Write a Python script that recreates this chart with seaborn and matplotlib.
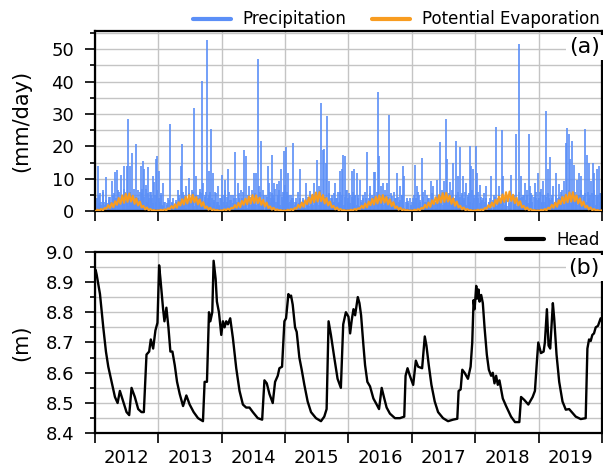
import numpy as np
import matplotlib
matplotlib.use("Agg")
import matplotlib.pyplot as plt
import seaborn as sns
from matplotlib.lines import Line2D
from matplotlib.ticker import MultipleLocator, FixedLocator, FixedFormatter, NullFormatter

# ---------------- data ----------------
years = [2012, 2013, 2014, 2015, 2016, 2017, 2018, 2019]
year_labels = ["2012", "2013", "2014", "2015", "2016", "2017", "2018", "2019"]

# notable daily precipitation events (decimal year, mm/day)
precip_t = [
    2012.008, 2012.042, 2012.060, 2012.079, 2012.100, 2012.121, 2012.145, 2012.174, 2012.195, 2012.216,
    2012.240, 2012.268, 2012.290, 2012.316, 2012.347, 2012.365, 2012.384, 2012.416, 2012.437, 2012.463,
    2012.480, 2012.500, 2012.526, 2012.540, 2012.558, 2012.579, 2012.595, 2012.611, 2012.630, 2012.647,
    2012.665, 2012.684, 2012.705, 2012.726, 2012.740, 2012.753, 2012.779, 2012.805, 2012.832, 2012.850,
    2012.868, 2012.890, 2012.911, 2012.937, 2012.963, 2012.984,
    2013.005, 2013.025, 2013.042, 2013.060, 2013.079, 2013.111, 2013.132, 2013.153, 2013.179, 2013.200,
    2013.216, 2013.253, 2013.279, 2013.311, 2013.332, 2013.358, 2013.379, 2013.395, 2013.411, 2013.437,
    2013.458, 2013.479, 2013.511, 2013.542, 2013.568, 2013.595, 2013.610, 2013.626, 2013.658, 2013.689,
    2013.711, 2013.742, 2013.774, 2013.790, 2013.805, 2013.820, 2013.837, 2013.868, 2013.885, 2013.900,
    2013.920, 2013.937, 2013.955, 2013.974,
    2014.005, 2014.032, 2014.058, 2014.080, 2014.100, 2014.121, 2014.147, 2014.179, 2014.211, 2014.230,
    2014.253, 2014.279, 2014.311, 2014.330, 2014.353, 2014.384, 2014.411, 2014.437, 2014.474, 2014.495,
    2014.511, 2014.542, 2014.568, 2014.595, 2014.621, 2014.640, 2014.658, 2014.695, 2014.715, 2014.732,
    2014.753, 2014.775, 2014.795, 2014.815, 2014.832, 2014.868, 2014.890, 2014.911, 2014.942, 2014.963,
    2014.984,
    2015.000, 2015.016, 2015.035, 2015.053, 2015.070, 2015.089, 2015.110, 2015.132, 2015.150, 2015.174,
    2015.205, 2015.237, 2015.258, 2015.279, 2015.305, 2015.332, 2015.368, 2015.400, 2015.432, 2015.463,
    2015.485, 2015.511, 2015.542, 2015.574, 2015.595, 2015.621, 2015.647, 2015.668, 2015.700, 2015.720,
    2015.742, 2015.765, 2015.789, 2015.810, 2015.832, 2015.850, 2015.868, 2015.895, 2015.921, 2015.948,
    2015.974,
    2016.000, 2016.025, 2016.052, 2016.070, 2016.089, 2016.110, 2016.131, 2016.157, 2016.184, 2016.205,
    2016.225, 2016.262, 2016.280, 2016.299, 2016.320, 2016.341, 2016.372, 2016.404, 2016.425, 2016.445,
    2016.461, 2016.482, 2016.509, 2016.530, 2016.551, 2016.582, 2016.614, 2016.630, 2016.645, 2016.682,
    2016.700, 2016.724, 2016.750, 2016.771, 2016.790, 2016.813, 2016.844, 2016.865, 2016.881, 2016.918,
    2016.944, 2016.981,
    2017.012, 2017.030, 2017.049, 2017.070, 2017.086, 2017.117, 2017.135, 2017.154, 2017.180, 2017.206,
    2017.225, 2017.248, 2017.270, 2017.295, 2017.315, 2017.337, 2017.360, 2017.390, 2017.416, 2017.442,
    2017.468, 2017.505, 2017.520, 2017.536, 2017.557, 2017.580, 2017.599, 2017.626, 2017.652, 2017.675,
    2017.694, 2017.731, 2017.750, 2017.767, 2017.790, 2017.809, 2017.830, 2017.851, 2017.883, 2017.914,
    2017.940, 2017.966, 2017.988,
    2018.008, 2018.029, 2018.050, 2018.071, 2018.095, 2018.124, 2018.150, 2018.176, 2018.218, 2018.235,
    2018.255, 2018.291, 2018.310, 2018.334, 2018.355, 2018.375, 2018.395, 2018.417, 2018.438, 2018.465,
    2018.491, 2018.533, 2018.569, 2018.606, 2018.630, 2018.648, 2018.685, 2018.705, 2018.727, 2018.753,
    2018.779, 2018.816, 2018.842, 2018.868, 2018.900, 2018.937, 2018.960, 2018.989,
    2019.010, 2019.031, 2019.050, 2019.068, 2019.094, 2019.120, 2019.146, 2019.165, 2019.183, 2019.209,
    2019.235, 2019.255, 2019.277, 2019.300, 2019.319, 2019.346, 2019.372, 2019.408, 2019.435, 2019.456,
    2019.477, 2019.498, 2019.529, 2019.550, 2019.566, 2019.585, 2019.603, 2019.634, 2019.655, 2019.676,
    2019.707, 2019.739, 2019.760, 2019.791, 2019.810, 2019.828, 2019.854, 2019.880, 2019.900, 2019.917,
    2019.949, 2019.975, 2019.995,
]
precip_v = [
    3.0, 13.9, 2.5, 5.5, 2.0, 6.7, 3.0, 10.6, 2.5, 3.5,
    4.5, 9.3, 5.0, 12.0, 12.7, 4.0, 6.0, 11.3, 5.0, 14.1,
    6.0, 13.9, 28.5, 5.0, 13.9, 18.0, 4.0, 7.0, 3.0, 20.8,
    3.0, 4.0, 6.0, 13.9, 7.0, 15.4, 12.9, 8.0, 13.7, 4.0,
    6.0, 5.0, 11.0, 9.0, 16.0, 17.0,
    12.3, 3.0, 5.0, 2.0, 8.7, 3.0, 2.6, 4.0, 27.0, 2.0,
    3.0, 2.0, 3.5, 6.7, 4.0, 13.9, 20.9, 3.0, 5.0, 7.7,
    3.0, 10.3, 4.0, 6.0, 31.9, 10.8, 3.0, 5.0, 7.0, 40.3,
    8.7, 5.0, 53.0, 4.0, 12.3, 6.0, 25.4, 11.8, 3.0, 6.0,
    3.0, 7.7, 2.0, 4.0,
    11.3, 5.0, 9.8, 3.0, 12.9, 6.0, 3.6, 5.0, 18.2, 4.0,
    8.7, 4.0, 6.7, 3.0, 18.8, 17.0, 5.0, 7.7, 4.0, 3.0,
    11.8, 11.8, 47.0, 7.7, 21.6, 3.0, 6.7, 5.0, 3.0, 13.9,
    8.7, 4.0, 17.5, 5.0, 8.7, 8.5, 4.0, 9.2, 12.9, 6.0,
    18.5,
    8.0, 19.9, 5.0, 11.8, 3.0, 5.0, 4.0, 21.1, 3.0, 4.1,
    6.0, 13.0, 3.0, 4.0, 2.0, 8.7, 3.0, 6.2, 4.0, 8.7,
    3.0, 15.7, 7.7, 33.4, 19.0, 19.2, 15.0, 29.3, 9.2, 4.0,
    5.0, 3.0, 8.7, 4.0, 6.0, 3.0, 12.3, 12.9, 17.5, 17.0,
    6.7,
    4.0, 5.0, 12.3, 4.0, 13.0, 5.0, 11.8, 5.0, 9.8, 3.0,
    4.0, 6.0, 3.0, 18.2, 4.0, 7.7, 5.0, 12.0, 12.0, 4.0,
    36.8, 17.0, 7.7, 4.0, 8.7, 5.0, 8.7, 3.0, 29.8, 4.6,
    3.0, 6.0, 4.0, 11.8, 3.0, 7.7, 5.0, 14.1, 10.8, 4.0,
    3.1, 2.0,
    4.0, 3.0, 14.4, 4.0, 7.7, 5.0, 3.0, 16.5, 6.0, 6.7,
    3.0, 4.0, 3.0, 9.2, 4.0, 7.7, 3.0, 9.8, 5.0, 21.3,
    6.7, 9.2, 4.0, 28.6, 16.0, 4.0, 9.0, 5.0, 14.9, 4.0,
    21.6, 10.8, 4.0, 19.9, 5.0, 10.8, 4.0, 8.7, 5.0, 20.0,
    13.9, 12.9, 5.0,
    20.3, 11.8, 4.0, 8.2, 3.0, 4.0, 3.0, 7.7, 3.0, 4.0,
    10.8, 5.0, 3.0, 25.9, 4.0, 7.7, 3.0, 25.0, 10.8, 3.0,
    5.7, 4.0, 11.3, 5.0, 3.0, 24.0, 51.7, 4.0, 11.0, 5.0,
    8.7, 5.0, 24.0, 7.7, 5.0, 8.7, 4.0, 11.8,
    4.0, 6.9, 3.0, 9.2, 5.0, 30.9, 12.9, 4.0, 16.7, 5.0,
    7.7, 3.0, 11.8, 4.0, 8.5, 4.0, 6.5, 9.2, 21.0, 25.6,
    24.0, 16.0, 21.6, 5.0, 14.4, 4.0, 9.8, 11.8, 4.0, 10.8,
    5.0, 25.4, 17.5, 14.9, 5.0, 9.2, 14.9, 11.8, 5.0, 13.0,
    13.9, 5.7, 12.0,
]

# smaller rain days (48 per year, mm/day)
precip_low_v = [
    2.5, 4.0, 1.5, 5.0, 3.0, 1.0, 6.0, 2.0, 3.5, 1.5, 4.5, 2.5,
    3.0, 1.0, 5.5, 2.0, 4.0, 6.5, 1.5, 3.0, 5.0, 2.5, 7.0, 3.5,
    4.0, 1.5, 6.0, 2.5, 5.0, 3.0, 1.0, 4.5, 6.5, 2.0, 3.5, 5.5,
    2.0, 4.5, 7.0, 3.0, 5.5, 1.5, 6.0, 4.0, 2.5, 5.0, 3.0, 6.5,
    4.0, 2.0, 5.5, 1.5, 3.0, 1.0, 2.0, 0.8, 3.5, 1.5, 2.5, 4.0,
    1.0, 3.0, 2.0, 5.0, 1.5, 3.5, 6.0, 2.0, 4.5, 1.0, 3.0, 5.5,
    2.5, 6.5, 3.0, 1.5, 5.0, 2.0, 4.0, 6.0, 3.5, 5.5, 2.0, 4.5,
    6.0, 3.0, 5.0, 2.5, 4.0, 1.5, 3.5, 5.5, 2.0, 3.0, 1.5, 4.0,
    5.0, 3.0, 6.5, 2.0, 4.5, 1.5, 3.5, 5.0, 2.5, 4.0, 1.0, 3.0,
    2.0, 5.5, 1.5, 4.0, 6.0, 2.5, 3.5, 1.0, 5.0, 2.0, 4.5, 6.5,
    3.0, 5.5, 2.0, 4.0, 1.5, 6.0, 3.5, 2.5, 5.0, 1.5, 4.5, 3.0,
    6.0, 2.5, 5.5, 4.0, 7.0, 3.0, 5.0, 6.5, 2.0, 4.5, 3.5, 6.0,
    4.5, 6.0, 2.5, 5.0, 3.5, 1.5, 4.0, 2.0, 3.0, 1.0, 2.5, 4.0,
    1.5, 3.5, 2.0, 1.0, 3.0, 4.5, 1.5, 2.5, 5.0, 2.0, 3.5, 6.0,
    4.0, 2.0, 6.5, 3.0, 5.0, 2.5, 4.5, 1.5, 3.5, 5.5, 2.0, 4.0,
    3.0, 5.5, 1.5, 4.0, 2.5, 6.0, 3.5, 5.0, 2.0, 4.5, 6.5, 3.0,
    5.5, 2.5, 4.5, 6.0, 3.0, 5.0, 2.0, 4.0, 1.5, 3.5, 2.5, 5.0,
    2.0, 4.0, 1.5, 3.0, 5.5, 2.5, 4.5, 1.0, 3.5, 6.0, 2.0, 4.0,
    3.0, 5.0, 2.0, 6.5, 3.5, 1.5, 4.5, 2.5, 5.5, 3.0, 1.0, 4.0,
    2.5, 4.5, 1.5, 3.5, 5.0, 2.0, 1.0, 3.0, 1.5, 2.5, 4.0, 2.0,
    3.0, 5.0, 2.0, 4.0, 6.0, 2.5, 3.5, 1.5, 4.5, 2.0, 3.0, 5.0,
    1.5, 4.0, 2.5, 5.5, 2.0, 3.0, 1.0, 4.5, 2.5, 3.5, 5.0, 2.0,
    6.0, 3.0, 4.5, 2.0, 5.5, 3.5, 6.5, 2.5, 4.0, 5.0, 3.0, 6.0,
    4.5, 2.5, 5.5, 3.5, 6.0, 2.0, 4.5, 5.5, 3.0, 6.5, 2.5, 4.0,
    5.0, 3.0, 6.0, 2.5, 4.5, 3.5, 5.5, 2.0, 4.0, 1.5, 3.0, 2.0,
    1.0, 3.5, 2.0, 4.5, 1.5, 3.0, 5.0, 2.5, 1.0, 4.0, 2.0, 3.5,
    1.5, 2.5, 1.0, 3.0, 5.0, 2.0, 4.0, 1.5, 3.5, 6.0, 2.5, 4.5,
    2.0, 5.0, 3.5, 6.5, 2.5, 4.0, 5.5, 3.0, 4.5, 2.0, 6.0, 3.5,
    4.0, 6.0, 2.5, 5.0, 3.0, 4.5, 2.0, 5.5, 3.5, 1.5, 4.0, 2.5,
    3.0, 5.0, 1.5, 4.5, 2.5, 6.0, 3.5, 2.0, 5.0, 3.0, 4.0, 6.5,
    2.5, 5.5, 3.0, 6.0, 4.0, 2.0, 5.0, 3.5, 6.5, 2.5, 4.5, 5.5,
    3.0, 6.0, 4.0, 2.5, 5.5, 3.5, 6.5, 2.0, 4.5, 5.0, 3.0, 5.5,
]

# potential evaporation, ~10-day values (36 per year, mm/day)
evap_v = [
    0.1, 0.5, 0.2, 0.7, 0.3, 1.0, 0.8, 1.9, 1.0, 2.5, 1.3, 3.1, 2.0, 4.1, 2.3, 4.9, 2.6, 5.4,
    2.9, 5.5, 3.0, 4.8, 2.3, 4.0, 1.8, 3.0, 1.2, 1.7, 0.6, 1.2, 0.3, 0.7, 0.2, 0.4, 0.1, 0.3,
    0.2, 0.5, 0.2, 0.6, 0.3, 0.9, 0.7, 1.6, 0.9, 2.2, 1.1, 2.8, 1.8, 3.7, 2.1, 4.5, 2.4, 5.0,
    2.7, 5.1, 2.8, 4.4, 2.1, 3.7, 1.6, 2.8, 1.0, 1.5, 0.5, 1.1, 0.3, 0.6, 0.2, 0.4, 0.1, 0.3,
    0.2, 0.6, 0.3, 0.8, 0.4, 1.1, 0.9, 1.9, 1.1, 2.6, 1.3, 3.2, 2.0, 3.9, 2.2, 4.6, 2.4, 5.0,
    2.6, 4.9, 2.5, 4.2, 2.0, 3.5, 1.5, 2.7, 1.0, 1.5, 0.5, 1.1, 0.3, 0.6, 0.2, 0.4, 0.1, 0.3,
    0.1, 0.5, 0.2, 0.7, 0.3, 1.0, 0.8, 2.0, 1.1, 2.7, 1.4, 3.4, 2.2, 4.3, 2.5, 5.1, 2.8, 5.8,
    3.0, 5.9, 3.1, 5.0, 2.4, 4.1, 1.8, 3.0, 1.2, 1.7, 0.6, 1.2, 0.3, 0.7, 0.2, 0.4, 0.1, 0.3,
    0.2, 0.5, 0.2, 0.7, 0.4, 0.9, 0.8, 1.7, 1.0, 2.4, 1.2, 3.0, 1.9, 3.8, 2.1, 4.5, 2.4, 4.9,
    2.6, 5.0, 2.7, 4.4, 2.1, 3.7, 1.6, 2.8, 1.0, 1.5, 0.5, 1.1, 0.3, 0.6, 0.2, 0.4, 0.1, 0.3,
    0.1, 0.5, 0.2, 0.7, 0.3, 1.1, 0.8, 2.0, 1.1, 2.7, 1.4, 3.4, 2.2, 4.3, 2.5, 5.0, 2.7, 5.6,
    2.9, 5.7, 3.0, 4.8, 2.3, 4.0, 1.7, 3.0, 1.2, 1.7, 0.6, 1.2, 0.3, 0.7, 0.2, 0.4, 0.1, 0.3,
    0.2, 0.5, 0.2, 0.6, 0.3, 1.0, 0.8, 1.9, 1.2, 2.7, 1.5, 3.5, 2.3, 4.5, 2.6, 5.2, 2.9, 5.9,
    3.1, 6.1, 3.2, 5.1, 2.5, 4.2, 1.8, 3.1, 1.2, 1.7, 0.6, 1.2, 0.3, 0.7, 0.2, 0.4, 0.1, 0.3,
    0.1, 0.5, 0.2, 0.7, 0.3, 1.1, 0.8, 2.0, 1.1, 2.7, 1.4, 3.4, 2.2, 4.4, 2.5, 5.1, 2.8, 5.8,
    3.0, 5.9, 3.1, 4.9, 2.4, 4.0, 1.7, 3.0, 1.2, 1.7, 0.6, 1.2, 0.3, 0.7, 0.2, 0.4, 0.1, 0.3,
]

head_t = [
    2012.000, 2012.010, 2012.026, 2012.079, 2012.131, 2012.173, 2012.210, 2012.262, 2012.315, 2012.357,
    2012.393, 2012.446, 2012.498, 2012.540, 2012.577, 2012.629, 2012.682, 2012.734, 2012.771, 2012.813,
    2012.855, 2012.881, 2012.918, 2012.954, 2012.986, 2013.012, 2013.033, 2013.075, 2013.096, 2013.127,
    2013.159, 2013.190, 2013.222, 2013.259, 2013.295, 2013.337, 2013.390, 2013.442, 2013.494, 2013.557,
    2013.626, 2013.704, 2013.730, 2013.767, 2013.799, 2013.820, 2013.851, 2013.872, 2013.904, 2013.924,
    2013.956, 2013.993, 2014.019, 2014.045, 2014.071, 2014.098, 2014.134, 2014.176, 2014.229, 2014.281,
    2014.334, 2014.386, 2014.438, 2014.491, 2014.569, 2014.638, 2014.674, 2014.711, 2014.753, 2014.805,
    2014.842, 2014.884, 2014.910, 2014.952, 2014.989, 2015.015, 2015.052, 2015.078, 2015.094, 2015.120,
    2015.157, 2015.183, 2015.225, 2015.262, 2015.304, 2015.356, 2015.409, 2015.487, 2015.566, 2015.618,
    2015.655, 2015.686, 2015.723, 2015.776, 2015.828, 2015.880, 2015.917, 2015.959, 2016.000, 2016.026,
    2016.052, 2016.079, 2016.105, 2016.147, 2016.173, 2016.199, 2016.236, 2016.262, 2016.298, 2016.340,
    2016.393, 2016.445, 2016.482, 2016.524, 2016.565, 2016.602, 2016.654, 2016.733, 2016.812, 2016.880,
    2016.901, 2016.932, 2016.969, 2017.021, 2017.063, 2017.099, 2017.162, 2017.204, 2017.230, 2017.267,
    2017.309, 2017.361, 2017.414, 2017.492, 2017.571, 2017.649, 2017.717, 2017.738, 2017.770, 2017.796,
    2017.832, 2017.885, 2017.927, 2017.953, 2017.974, 2017.990, 2018.016, 2018.031, 2018.052, 2018.068,
    2018.094, 2018.120, 2018.147, 2018.183, 2018.215, 2018.251, 2018.277, 2018.304, 2018.330, 2018.356,
    2018.382, 2018.435, 2018.487, 2018.565, 2018.628, 2018.696, 2018.723, 2018.775, 2018.838, 2018.906,
    2018.942, 2018.974, 2018.995, 2019.037, 2019.079, 2019.099, 2019.131, 2019.157, 2019.183, 2019.225,
    2019.246, 2019.283, 2019.325, 2019.377, 2019.429, 2019.482, 2019.524, 2019.586, 2019.665, 2019.743,
    2019.770, 2019.796, 2019.822, 2019.848, 2019.874, 2019.901, 2019.937, 2019.979, 2020.000,
]
head_v = [
    8.93, 8.94, 8.925, 8.86, 8.75, 8.67, 8.62, 8.57, 8.52, 8.50,
    8.54, 8.505, 8.47, 8.46, 8.55, 8.52, 8.48, 8.47, 8.47, 8.66,
    8.67, 8.71, 8.68, 8.74, 8.765, 8.955, 8.91, 8.81, 8.77, 8.815,
    8.75, 8.67, 8.67, 8.625, 8.57, 8.53, 8.49, 8.525, 8.495, 8.47,
    8.45, 8.44, 8.57, 8.57, 8.80, 8.77, 8.80, 8.97, 8.91, 8.835,
    8.80, 8.725, 8.77, 8.75, 8.77, 8.76, 8.78, 8.715, 8.615, 8.54,
    8.495, 8.485, 8.485, 8.47, 8.45, 8.445, 8.575, 8.565, 8.53, 8.50,
    8.57, 8.59, 8.615, 8.62, 8.77, 8.78, 8.86, 8.85, 8.855, 8.825,
    8.75, 8.735, 8.65, 8.61, 8.56, 8.505, 8.47, 8.45, 8.44, 8.455,
    8.48, 8.77, 8.725, 8.65, 8.58, 8.55, 8.76, 8.80, 8.785, 8.73,
    8.775, 8.81, 8.79, 8.85, 8.83, 8.79, 8.69, 8.625, 8.57, 8.555,
    8.515, 8.495, 8.48, 8.55, 8.515, 8.485, 8.465, 8.45, 8.45, 8.455,
    8.59, 8.615, 8.59, 8.56, 8.64, 8.62, 8.615, 8.72, 8.69, 8.625,
    8.56, 8.505, 8.47, 8.45, 8.44, 8.445, 8.448, 8.54, 8.545, 8.61,
    8.60, 8.58, 8.62, 8.70, 8.84, 8.81, 8.887, 8.845, 8.875, 8.835,
    8.857, 8.83, 8.75, 8.66, 8.61, 8.59, 8.60, 8.565, 8.59, 8.56,
    8.575, 8.515, 8.49, 8.455, 8.437, 8.437, 8.52, 8.51, 8.495, 8.52,
    8.54, 8.64, 8.70, 8.665, 8.67, 8.70, 8.81, 8.69, 8.68, 8.83,
    8.78, 8.66, 8.57, 8.505, 8.478, 8.48, 8.47, 8.455, 8.447, 8.45,
    8.68, 8.71, 8.705, 8.725, 8.73, 8.75, 8.755, 8.78, 8.77,
]

# time positions of the regularly spaced series
evap_t = [y + (k + 0.5) / 36.0 for y in years for k in range(36)]
precip_low_t = [y + (k + 0.3) / 48.0 for y in years for k in range(48)]

# ---------------- style ----------------
sns.set_style("ticks")
plt.rcParams["font.family"] = ["DejaVu Sans"]
plt.rcParams["axes.edgecolor"] = "black"
plt.rcParams["xtick.color"] = "black"
plt.rcParams["ytick.color"] = "black"
plt.rcParams["text.color"] = "black"
plt.rcParams["axes.labelcolor"] = "black"

BLUE = "#5b8ff7"
ORANGE = "#f89c20"
GRID = "#c4c4c4"

fig = plt.figure(figsize=(6.03, 4.66), dpi=100)
ax1 = fig.add_axes([0.1575, 0.5466, 0.8408, 0.3869])
ax2 = fig.add_axes([0.1575, 0.0702, 0.8408, 0.3897])

# ---------------- panel (a) ----------------
n = min(len(precip_t), len(precip_v))
ax1.vlines(precip_t[:n], 0, precip_v[:n], color=BLUE, lw=1.2, zorder=2)
nl = min(len(precip_low_t), len(precip_low_v))
ax1.vlines(precip_low_t[:nl], 0, precip_low_v[:nl], color=BLUE, lw=1.2, zorder=2)
sns.lineplot(x=evap_t, y=evap_v, ax=ax1, color=ORANGE, lw=1.5, zorder=3)

# ---------------- panel (b) ----------------
m = min(len(head_t), len(head_v))
sns.lineplot(x=head_t[:m], y=head_v[:m], ax=ax2, color="black", lw=1.7, zorder=3,
             sort=False, estimator=None)

for ax in (ax1, ax2):
    ax.set_xlim(2012, 2020)
    ax.xaxis.set_major_locator(FixedLocator(list(years) + [2020]))
    ax.xaxis.set_major_formatter(NullFormatter())
    ax.xaxis.set_minor_locator(FixedLocator([y + 0.5 for y in years]))
    ax.set_axisbelow(True)
    ax.grid(True, which="major", axis="x", color=GRID, lw=1.0)
    ax.grid(True, which="both", axis="y", color=GRID, lw=1.0)
    for s in ax.spines.values():
        s.set_linewidth(1.6)
        s.set_color("black")
    ax.tick_params(axis="x", which="major", length=7, width=1.2)
    ax.tick_params(axis="x", which="minor", length=0, pad=11, labelsize=13)
    ax.tick_params(axis="y", which="major", length=7, width=1.2, pad=8, labelsize=13)
    ax.tick_params(axis="y", which="minor", length=3.5, width=1.2)
    ax.set_xlabel("")

ax1.xaxis.set_minor_formatter(NullFormatter())
ax2.xaxis.set_minor_formatter(FixedFormatter(year_labels))

ax1.set_ylim(0, 55.65)
ax1.yaxis.set_major_locator(MultipleLocator(10))
ax1.yaxis.set_minor_locator(MultipleLocator(5))
ax2.set_ylim(8.4, 9.0)
ax2.yaxis.set_major_locator(MultipleLocator(0.1))
ax2.yaxis.set_minor_locator(MultipleLocator(0.05))

ax1.set_ylabel("(mm/day)", fontsize=15)
ax2.set_ylabel("(m)", fontsize=15)
ax1.yaxis.set_label_coords(-0.125, 0.5)
ax2.yaxis.set_label_coords(-0.125, 0.5)

for ax, lab in ((ax1, "(a)"), (ax2, "(b)")):
    ax.text(0.996, 0.965, lab, transform=ax.transAxes, ha="right", va="top", fontsize=16,
            bbox=dict(facecolor="white", edgecolor="none", pad=2), zorder=5)

h1 = [Line2D([], [], color=BLUE, lw=3, label="Precipitation"),
      Line2D([], [], color=ORANGE, lw=3, label="Potential Evaporation")]
ax1.legend(handles=h1, loc="lower right", bbox_to_anchor=(1.0, 1.0), ncol=2, frameon=False,
           fontsize=12, handlelength=2.3, handletextpad=0.7, columnspacing=1.5,
           borderpad=0, borderaxespad=0.15)
h2 = [Line2D([], [], color="black", lw=3, label="Head")]
ax2.legend(handles=h2, loc="lower right", bbox_to_anchor=(1.0, 1.0), frameon=False,
           fontsize=12, handlelength=2.3, handletextpad=0.7, borderpad=0, borderaxespad=0.15)

fig.savefig("out.png", dpi=100)
